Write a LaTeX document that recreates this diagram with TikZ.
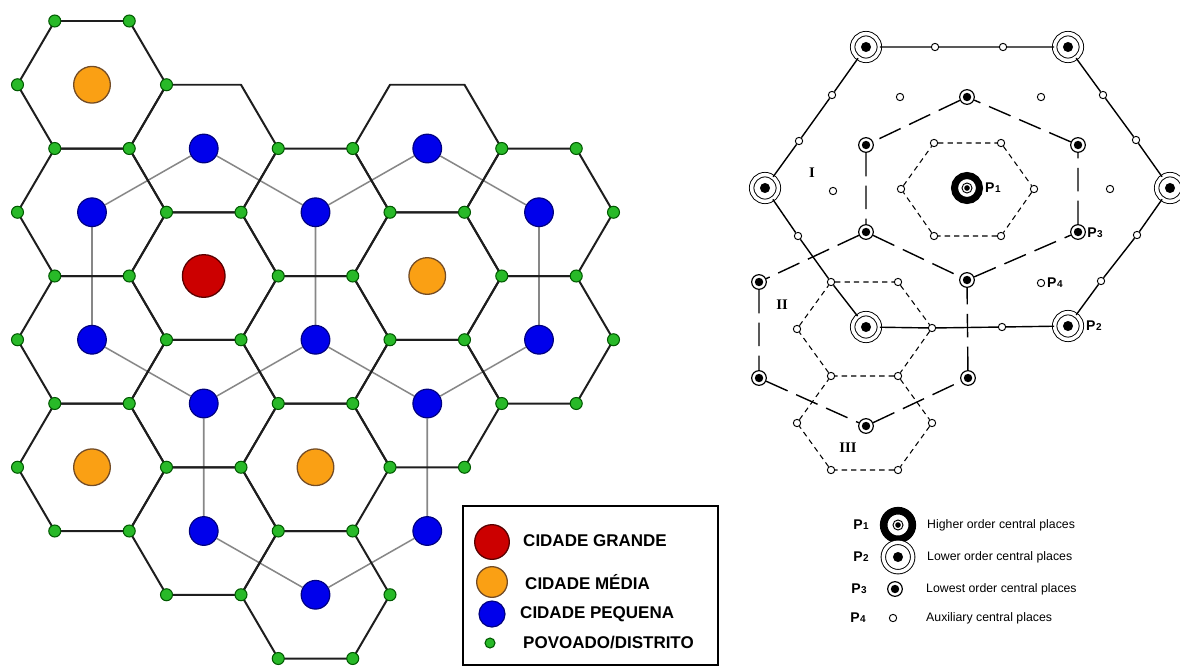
\documentclass[tikz,border=0pt]{standalone}
\usepackage{fontspec}
\setmainfont{Liberation Sans}
\newfontfamily\romanfont{Liberation Serif}
\usetikzlibrary{backgrounds}

\definecolor{bigred}{RGB}{204,0,0}
\definecolor{midorange}{RGB}{250,160,20}
\definecolor{smallblue}{RGB}{0,0,235}
\definecolor{villagegreen}{RGB}{40,185,40}
\definecolor{linkgray}{RGB}{135,135,135}
\definecolor{hexgray}{RGB}{30,30,30}

\newcommand{\pname}[1]{P\kern.4pt{\fontsize{8.5}{9}\selectfont #1}}

\tikzset{
    hexline/.style={draw=hexgray, line width=1.7pt, line join=round},
    link/.style={draw=linkgray, line width=1.3pt},
    bigtown/.style={circle, draw=red!35!black, line width=1.1pt, fill=bigred, minimum size=1.28cm, inner sep=0pt},
    midtown/.style={circle, draw=brown!60!black, line width=1.1pt, fill=midorange, minimum size=1.1cm, inner sep=0pt},
    smalltown/.style={circle, draw=blue!50!black, line width=1pt, fill=smallblue, minimum size=0.86cm, inner sep=0pt},
    village/.style={circle, draw=green!35!black, line width=0.9pt, fill=villagegreen, minimum size=0.36cm, inner sep=0pt},
    keytext/.style={anchor=west, inner sep=0pt, font=\fontsize{14.5}{17}\selectfont\bfseries},
    boundary/.style={line width=1.2pt},
    trade/.style={line width=1.2pt, dash pattern=on 20pt off 8pt},
    market/.style={line width=0.9pt, dash pattern=on 4.5pt off 3.5pt},
    p1sym/.style={circle, draw, fill=white, line width=6pt, minimum size=0.75cm, inner sep=0pt,
        path picture={\draw[black, line width=0.8pt] (path picture bounding box.center) circle[radius=4.3pt];
                      \fill[black] (path picture bounding box.center) circle[radius=2.4pt];}},
    p2sym/.style={circle, draw, fill=white, line width=0.8pt, double, double distance=3pt, minimum size=0.8cm, inner sep=0pt,
        path picture={\fill[black] (path picture bounding box.center) circle[radius=4.3pt];}},
    p3sym/.style={circle, draw, fill=white, line width=1pt, minimum size=0.44cm, inner sep=0pt,
        path picture={\fill[black] (path picture bounding box.center) circle[radius=3.6pt];}},
    aux/.style={circle, draw, fill=white, line width=0.8pt, minimum size=0.22cm, inner sep=0pt},
    plabel/.style={inner sep=0pt, font=\fontsize{12}{13}\selectfont\bfseries},
    roman/.style={inner sep=0pt, font=\romanfont\fontsize{12.5}{13}\selectfont\bfseries},
    keynote/.style={anchor=west, inner sep=0pt, font=\fontsize{10.5}{12}\selectfont}
}

\begin{document}
\begin{tikzpicture}[x=0.03cm, y=-0.03cm]
    \useasboundingbox (0,0) rectangle (1180,666);

    % hexagonal cells
    \foreach \c/\m in {0/1,0/3,0/5,0/7,1/2,1/4,1/6,1/8,2/3,2/5,2/7,2/9,3/2,3/4,3/6,4/3,4/5}
        \draw[hexline] ({17.5+111.75*\c},{21+63.75*\m}) -- ++(37.25,-63.75) -- ++(74.5,0)
            -- ++(37.25,63.75) -- ++(-37.25,63.75) -- ++(-74.5,0) -- cycle;

    % villages on the corners
    \foreach \n in {1,3,5,7} \node[village] (a0-\n) at (17.5,{21+63.75*\n}) {};
    \foreach \n in {0,2,4,6,8} \node[village] (b0-\n) at (54.75,{21+63.75*\n}) {};
    \foreach \n in {0,2,4,6,8} \node[village] (a1-\n) at (129.25,{21+63.75*\n}) {};
    \foreach \n in {1,3,5,7,9} \node[village] (b1-\n) at (166.5,{21+63.75*\n}) {};
    \foreach \n in {3,5,7,9} \node[village] (a2-\n) at (241,{21+63.75*\n}) {};
    \foreach \n in {2,4,6,8,10} \node[village] (b2-\n) at (278.25,{21+63.75*\n}) {};
    \foreach \n in {2,4,6,8,10} \node[village] (a3-\n) at (352.75,{21+63.75*\n}) {};
    \foreach \n in {3,5,7,9} \node[village] (b3-\n) at (390,{21+63.75*\n}) {};
    \foreach \n in {3,5,7} \node[village] (a4-\n) at (464.5,{21+63.75*\n}) {};
    \foreach \n in {2,4,6} \node[village] (b4-\n) at (501.75,{21+63.75*\n}) {};
    \foreach \n in {2,4,6} \node[village] (a5-\n) at (576.25,{21+63.75*\n}) {};
    \foreach \n in {3,5} \node[village] (b5-\n) at (613.5,{21+63.75*\n}) {};

    % towns
    \node[bigtown] (t1-4) at (203.75,276) {};
    \foreach \c/\m in {0/1,3/4,0/7,2/7}
        \node[midtown] (t\c-\m) at ({92+111.75*\c},{21+63.75*\m}) {};
    \foreach \c/\m in {0/3,0/5,1/2,1/6,1/8,2/3,2/5,2/9,3/2,3/6,3/8,4/3,4/5}
        \node[smalltown] (t\c-\m) at ({92+111.75*\c},{21+63.75*\m}) {};

    \begin{pgfonlayer}{background}
        \draw[link] (t1-2) -- (t2-3) -- (t2-5) -- (t1-6) -- (t0-5) -- (t0-3) -- (t1-2);
        \draw[link] (t2-3) -- (t3-2) -- (t4-3) -- (t4-5) -- (t3-6) -- (t2-5);
        \draw[link] (t3-6) -- (t3-8) -- (t2-9) -- (t1-8) -- (t1-6);
    \end{pgfonlayer}

    % key, left
    \node[draw, line width=1.2pt, fill=white, minimum width=7.65cm, minimum height=4.77cm, inner sep=0pt] (key) at (590.5,585.5) {};
    \node[bigtown, minimum size=1.04cm] (kbig) at (492,542) {};
    \node[midtown, minimum size=0.92cm] (kmid) at (492,582) {};
    \node[smalltown, minimum size=0.78cm] (ksmall) at (492,614) {};
    \node[village, minimum size=0.3cm] (kvillage) at (490,643) {};
    \node[keytext] (kbigtext) at (523,541) {CIDADE GRANDE};
    \node[keytext] (kmidtext) at (525,582) {CIDADE MÉDIA};
    \node[keytext] (ksmalltext) at (520,614) {CIDADE PEQUENA};
    \node[keytext] (kvillagetext) at (523,643) {POVOADO/DISTRITO};

    % central places
    \node[p2sym] (p2nw) at (866,47) {};
    \node[p2sym] (p2ne) at (1068,47) {};
    \node[p2sym] (p2e) at (1170,188) {};
    \node[p2sym] (p2se) at (1068,326) {};
    \node[p2sym] (p2sw) at (866,327) {};
    \node[p2sym] (p2w) at (765,188) {};
    \node[p1sym] (p1) at (967,188) {};

    \node[p3sym] (q1) at (967,97) {};
    \node[p3sym] (q2) at (1078,145) {};
    \node[p3sym] (q3) at (1078,232) {};
    \node[p3sym] (q4) at (967,280) {};
    \node[p3sym] (q5) at (866,232) {};
    \node[p3sym] (q6) at (866,145) {};
    \node[p3sym] (q7) at (759,282) {};
    \node[p3sym] (q8) at (759,378) {};
    \node[p3sym] (q9) at (866,426) {};
    \node[p3sym] (q10) at (968,378) {};

    \node[aux] (e1) at (935,47) {};
    \node[aux] (e2) at (1003,47) {};
    \node[aux] (e3) at (1103,95) {};
    \node[aux] (e4) at (1136,140) {};
    \node[aux] (e5) at (1137,235) {};
    \node[aux] (e6) at (1101,281) {};
    \node[aux] (e7) at (932,328) {};
    \node[aux] (e8) at (1002,327) {};
    \node[aux] (e9) at (798,236) {};
    \node[aux] (e10) at (831,282) {};
    \node[aux] (e11) at (799,141) {};
    \node[aux] (e12) at (832,95) {};

    \node[aux] (r1) at (934,143) {};
    \node[aux] (r2) at (1001,143) {};
    \node[aux] (r3) at (1034,189) {};
    \node[aux] (r4) at (1001,236) {};
    \node[aux] (r5) at (934,236) {};
    \node[aux] (r6) at (901,189) {};

    \node[aux] (s2) at (898,282) {};
    \node[aux] (s4) at (898,376) {};
    \node[aux] (s5) at (831,376) {};
    \node[aux] (s6) at (797,329) {};
    \node[aux] (s7) at (932,423) {};
    \node[aux] (s8) at (898,470) {};
    \node[aux] (s9) at (831,470) {};
    \node[aux] (s10) at (797,423) {};

    \node[aux] (o1) at (900,97) {};
    \node[aux] (o2) at (1041,97) {};
    \node[aux] (o3) at (833,191) {};
    \node[aux] (o4) at (1110,189) {};
    \node[aux] (o5) at (1041,283) {};

    \draw[boundary] (p2nw) -- (e1) -- (e2) -- (p2ne) -- (e3) -- (e4) -- (p2e) -- (e5) -- (e6) -- (p2se)
        -- (e8) -- (e7) -- (p2sw) -- (e10) -- (e9) -- (p2w) -- (e11) -- (e12) -- (p2nw);
    \draw[trade] (q1) -- (q6) -- (q5) -- (q4) -- (q3) -- (q2) -- (q1);
    \draw[trade] (q5) -- (q7) -- (q8) -- (q9) -- (q10) -- (q4);
    \draw[market] (r1) -- (r2) -- (r3) -- (r4) -- (r5) -- (r6) -- (r1);
    \draw[market] (e10) -- (s2) -- (e7) -- (s4) -- (s5) -- (s6) -- (e10);
    \draw[market] (s4) -- (s7) -- (s8) -- (s9) -- (s10) -- (s5);

    \node[roman] (lab1) at (812,173) {I};
    \node[roman] (lab2) at (782,305) {II};
    \node[roman] (lab3) at (848,448) {III};
    \node[plabel, anchor=west] (labp1) at (985,188) {\pname{1}};
    \node[plabel, anchor=west] (labp3) at (1087,233) {\pname{3}};
    \node[plabel, anchor=west] (labp4) at (1047,283) {\pname{4}};
    \node[plabel, anchor=west] (labp2) at (1086,326) {\pname{2}};

    % key, right
    \node[plabel] (kp1) at (861,525) {\pname{1}};
    \node[plabel] (kp2) at (861,557) {\pname{2}};
    \node[plabel] (kp3) at (859,589) {\pname{3}};
    \node[plabel] (kp4) at (858,618) {\pname{4}};
    \node[p1sym, minimum size=0.86cm, line width=6.5pt] (ks1) at (898,525) {};
    \node[p2sym, minimum size=0.88cm] (ks2) at (898,557) {};
    \node[p3sym] (ks3) at (895,589) {};
    \node[aux] (ks4) at (893,618) {};
    \node[keynote] (kn1) at (927,525) {Higher order central places};
    \node[keynote] (kn2) at (927,557) {Lower order central places};
    \node[keynote] (kn3) at (926,589) {Lowest order central places};
    \node[keynote] (kn4) at (926,618) {Auxiliary central places};
\end{tikzpicture}
\end{document}
